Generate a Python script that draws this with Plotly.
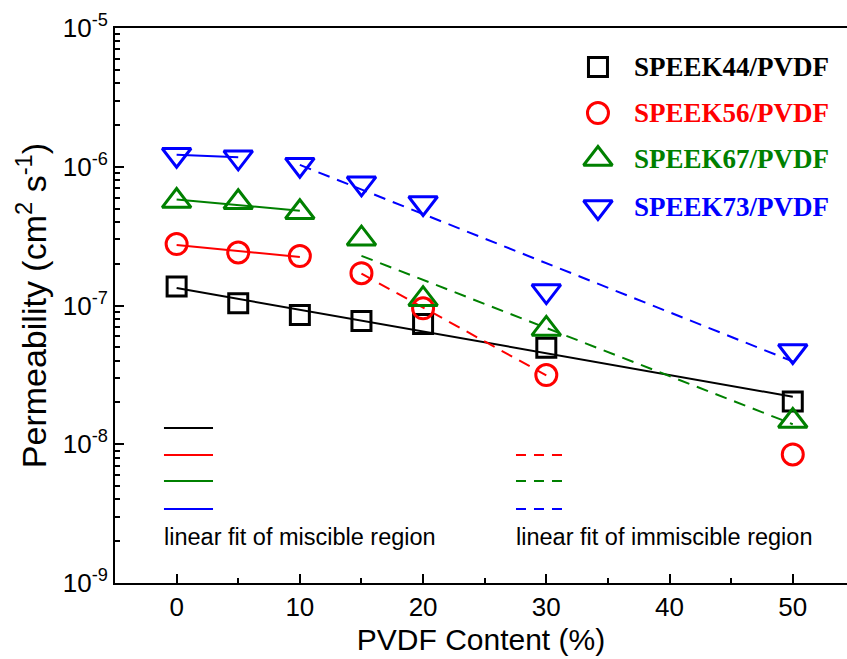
import numpy as np
import plotly.graph_objects as go

# ---------------- data ----------------
pvdf_content = [0, 5, 10, 15, 20, 30, 50]
speek44 = [1.37e-7, 1.04e-7, 8.55e-8, 7.73e-8, 7.36e-8, 4.97e-8, 2.03e-8]
speek56 = [2.77e-7, 2.41e-7, 2.27e-7, 1.71e-7, 9.55e-8, 3.15e-8, 8.45e-9]
speek67 = [5.66e-7, 5.55e-7, 4.70e-7, 3.03e-7, 1.11e-7, 6.78e-8, 1.47e-8]
speek73 = [1.22e-6, 1.17e-6, 1.035e-6, 7.6e-7, 5.48e-7, 1.27e-7, 4.7e-8]
series_names = ["SPEEK44/PVDF", "SPEEK56/PVDF", "SPEEK67/PVDF", "SPEEK73/PVDF"]
# indices of points used for each linear fit (log scale)
miscible_idx = [[0, 1, 2, 3, 4, 5, 6], [0, 1, 2], [0, 1, 2], [0, 1]]
immiscible_idx = [None, [3, 4, 5], [3, 4, 5, 6], [2, 3, 4, 5, 6]]
x_ticks = [0, 10, 20, 30, 40, 50]
x_minor = [5, 15, 25, 35, 45]
y_decades = [-9, -8, -7, -6, -5]

colors = ["#000000", "#FF0000", "#008000", "#0000FF"]
symbols = ["square-open", "circle-open", "triangle-up-open", "triangle-down-open"]
sizes = [19, 21, 25, 25]
all_series = [speek44, speek56, speek67, speek73]

fig = go.Figure()


def add_fit(idx, vals, color, dash):
    xs = np.array([pvdf_content[i] for i in idx], dtype=float)
    ys = np.log10([vals[i] for i in idx])
    k, b = np.polyfit(xs, ys, 1)
    xf = np.array([xs.min(), xs.max()])
    fig.add_trace(go.Scatter(x=xf, y=10 ** (k * xf + b), mode="lines",
                             line=dict(color=color, width=2, dash=dash),
                             showlegend=False, hoverinfo="skip"))


for s, vals in enumerate(all_series):
    add_fit(miscible_idx[s], vals, colors[s], "solid")
    if immiscible_idx[s] is not None:
        add_fit(immiscible_idx[s], vals, colors[s], "12px,8px")

for s, vals in enumerate(all_series):
    fig.add_trace(go.Scatter(
        x=pvdf_content, y=vals, mode="markers", name=series_names[s],
        showlegend=False,
        marker=dict(symbol=symbols[s], size=sizes[s], color=colors[s],
                    line=dict(color=colors[s], width=3)),
    ))

# ---------------- custom legend (overlay axes in 0..1 units) ----------------
leg_mx, leg_tx = 0.6598, 0.7063
leg_y = [0.9297, 0.8468, 0.7640, 0.6775]
for s in range(4):
    fig.add_trace(go.Scatter(
        x=[leg_mx], y=[leg_y[s]], xaxis="x2", yaxis="y2", mode="markers",
        showlegend=False, hoverinfo="skip",
        marker=dict(symbol=symbols[s], size=sizes[s], color=colors[s],
                    line=dict(color=colors[s], width=3)),
    ))
    fig.add_annotation(x=leg_tx, y=leg_y[s], xref="paper", yref="paper",
                       text=series_names[s], showarrow=False,
                       xanchor="left", yanchor="middle",
                       font=dict(family="Liberation Serif, Times New Roman", size=27,
                                 weight="bold", color=colors[s]))

# ---------------- key for fit lines (paper coords) ----------------
L0, L1 = 0.0669, 0.1339
D0, D1 = 0.5478, 0.6161
key_y = [0.2793, 0.2306, 0.1838, 0.1333]
for s in range(4):
    fig.add_shape(type="line", xref="paper", yref="paper", x0=L0, x1=L1,
                  y0=key_y[s], y1=key_y[s], line=dict(color=colors[s], width=2))
    if s > 0:
        fig.add_shape(type="line", xref="paper", yref="paper", x0=D0, x1=D1,
                      y0=key_y[s], y1=key_y[s],
                      line=dict(color=colors[s], width=2, dash="10px,8px"))

for xx, txt in [(L0, "linear fit of miscible region"), (D0, "linear fit of immiscible region")]:
    fig.add_annotation(x=xx - 0.003, y=0.0829, xref="paper", yref="paper", text=txt,
                       showarrow=False, xanchor="left", yanchor="middle",
                       font=dict(family="Liberation Sans, Arial", size=23.5, color="black"))

axis_font = dict(family="Liberation Sans, Arial", size=26, color="black")

fig.update_layout(
    width=847, height=659,
    margin=dict(l=115, r=0, t=28, b=76),
    paper_bgcolor="white", plot_bgcolor="white",
    font=dict(family="Liberation Sans, Arial", color="black"),
    showlegend=False,
    xaxis=dict(range=[-5, 54.4], tickmode="array", tickvals=x_ticks,
               ticks="inside", ticklen=9, tickwidth=1.5, tickcolor="black",
               minor=dict(tickmode="array", tickvals=x_minor, ticks="inside",
                          ticklen=5, tickwidth=1.5, tickcolor="black", showgrid=False),
               showline=True, linecolor="black", linewidth=2, mirror=True,
               showgrid=False, zeroline=False, tickfont=axis_font,
               title=dict(text="PVDF Content (%)", standoff=8,
                          font=dict(family="Liberation Sans, Arial", size=30))),
    yaxis=dict(type="log", range=[-9, -5], tickmode="array",
               tickvals=[10.0 ** d for d in y_decades],
               ticktext=[f"10<sup>{d}</sup>" for d in y_decades],
               ticks="inside", ticklen=9, tickwidth=1.5, tickcolor="black",
               minor=dict(tickmode="array",
                          tickvals=[m * 10.0 ** d for d in y_decades[:-1] for m in range(2, 10)],
                          ticks="inside", ticklen=5, tickwidth=1.5, tickcolor="black",
                          showgrid=False),
               showline=True, linecolor="black", linewidth=2, mirror=False,
               showgrid=False, zeroline=False, tickfont=axis_font,
               title=dict(text="Permeability (cm<sup>2</sup> s<sup>-1</sup>)", standoff=6,
                          font=dict(family="Liberation Sans, Arial", size=34))),
    xaxis2=dict(overlaying="x", range=[0, 1], visible=False, anchor="y2"),
    yaxis2=dict(overlaying="y", range=[0, 1], visible=False, anchor="x2"),
)

fig.write_html("out.html")
